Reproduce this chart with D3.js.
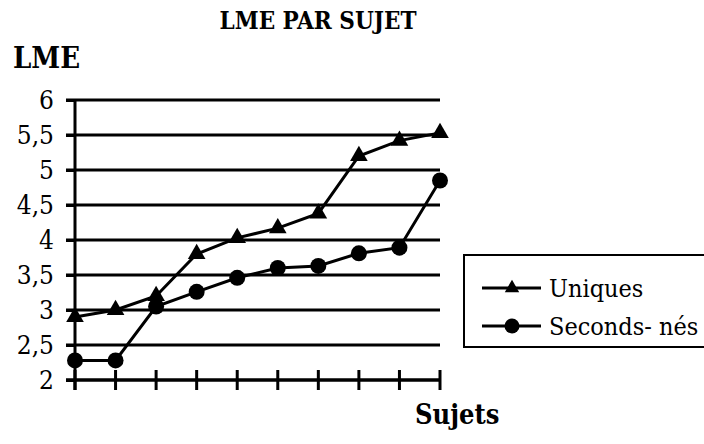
<!DOCTYPE html>
<html>
<head>
<meta charset="utf-8">
<script src="https://cdn.jsdelivr.net/npm/d3@7"></script>
<style>
  html, body { margin: 0; padding: 0; background: #fff; }
  svg { display: block; }
</style>
</head>
<body>
<svg id="chart" width="704" height="444"></svg>
<script>
// Subjects 1..10, LME per subject for each group
const subjects = [1, 2, 3, 4, 5, 6, 7, 8, 9, 10];
const uniques = [2.9, 3.0, 3.2, 3.8, 4.03, 4.17, 4.38, 5.2, 5.42, 5.53];
const secondsNes = [2.28, 2.28, 3.05, 3.26, 3.46, 3.6, 3.63, 3.81, 3.89, 4.85];
const yTicks = [2, 2.5, 3, 3.5, 4, 4.5, 5, 5.5, 6];
const seriesNames = ["Uniques", "Seconds- nés"];

const FONT = "'DejaVu Serif Condensed', 'DejaVu Serif', serif";
const svg = d3.select("#chart");
const fmt = d => String(d).replace(".", ",");

const x = d3.scaleLinear().domain([1, 10]).range([75, 440]);
const y = d3.scaleLinear().domain([2, 6]).range([380, 100]);

function label(sel, px, py, size, bold, str, anchor) {
  return sel.append("text").attr("x", px).attr("y", py)
    .attr("text-anchor", anchor || "start")
    .style("font-family", FONT).style("font-size", size + "px")
    .style("font-stretch", "condensed")
    .style("font-weight", bold ? "bold" : "normal").attr("fill", "#000").text(str);
}

// Title and axis titles
label(svg, 318, 29, 24, true, "LME PAR SUJET", "middle");
label(svg, 13, 68, 29, true, "LME");
label(svg, 415, 424, 27, true, "Sujets");

// Horizontal gridlines
svg.append("g").selectAll("line").data(yTicks).join("line")
  .attr("x1", 66).attr("x2", 440)
  .attr("y1", d => y(d)).attr("y2", d => y(d))
  .attr("stroke", "#000").attr("stroke-width", 3);

// Y axis
const yAxis = svg.append("g").attr("transform", "translate(75,0)")
  .call(d3.axisLeft(y).tickValues(yTicks).tickFormat(fmt).tickSize(9).tickPadding(12));
yAxis.select(".domain").remove();
yAxis.selectAll(".tick line").attr("stroke", "#000").attr("stroke-width", 3);
yAxis.selectAll(".tick text")
  .style("font-family", FONT).style("font-stretch", "condensed")
  .style("font-size", "26px").attr("fill", "#000");
svg.append("line").attr("x1", 75).attr("x2", 75).attr("y1", y(6)).attr("y2", 390)
  .attr("stroke", "#000").attr("stroke-width", 3);

// X axis with crossing ticks
svg.append("line").attr("x1", 66).attr("x2", 440).attr("y1", y(2)).attr("y2", y(2))
  .attr("stroke", "#000").attr("stroke-width", 3);
svg.append("g").selectAll("line").data(subjects).join("line")
  .attr("x1", d => x(d)).attr("x2", d => x(d))
  .attr("y1", y(2) - 10).attr("y2", y(2) + 10)
  .attr("stroke", "#000").attr("stroke-width", 3);

// Series lines and markers
const line = d3.line().x((d, i) => x(subjects[i])).y(d => y(d));
const tri = d3.symbol().type(d3.symbolTriangle).size(135);
const triSmall = d3.symbol().type(d3.symbolTriangle).size(90);

svg.append("path").datum(uniques).attr("d", line)
  .attr("fill", "none").attr("stroke", "#000").attr("stroke-width", 3);
svg.append("path").datum(secondsNes).attr("d", line)
  .attr("fill", "none").attr("stroke", "#000").attr("stroke-width", 3);

svg.append("g").selectAll("path").data(uniques).join("path")
  .attr("d", tri)
  .attr("transform", (d, i) => `translate(${x(subjects[i])},${y(d)})`)
  .attr("fill", "#000");
svg.append("g").selectAll("circle").data(secondsNes).join("circle")
  .attr("cx", (d, i) => x(subjects[i])).attr("cy", d => y(d)).attr("r", 8)
  .attr("fill", "#000");

// Legend
const lg = svg.append("g");
lg.append("rect").attr("x", 464).attr("y", 255).attr("width", 260).attr("height", 92)
  .attr("fill", "#fff").attr("stroke", "#000").attr("stroke-width", 2);
const rows = [288, 326];
seriesNames.forEach((name, i) => {
  lg.append("line").attr("x1", 482).attr("x2", 541).attr("y1", rows[i]).attr("y2", rows[i])
    .attr("stroke", "#000").attr("stroke-width", 3);
  if (i === 0) {
    lg.append("path").attr("d", triSmall).attr("transform", `translate(512,${rows[i]})`).attr("fill", "#000");
  } else {
    lg.append("circle").attr("cx", 512).attr("cy", rows[i]).attr("r", 7.5).attr("fill", "#000");
  }
  label(lg, 549, rows[i] + 9, 25, false, name);
});
</script>
</body>
</html>
